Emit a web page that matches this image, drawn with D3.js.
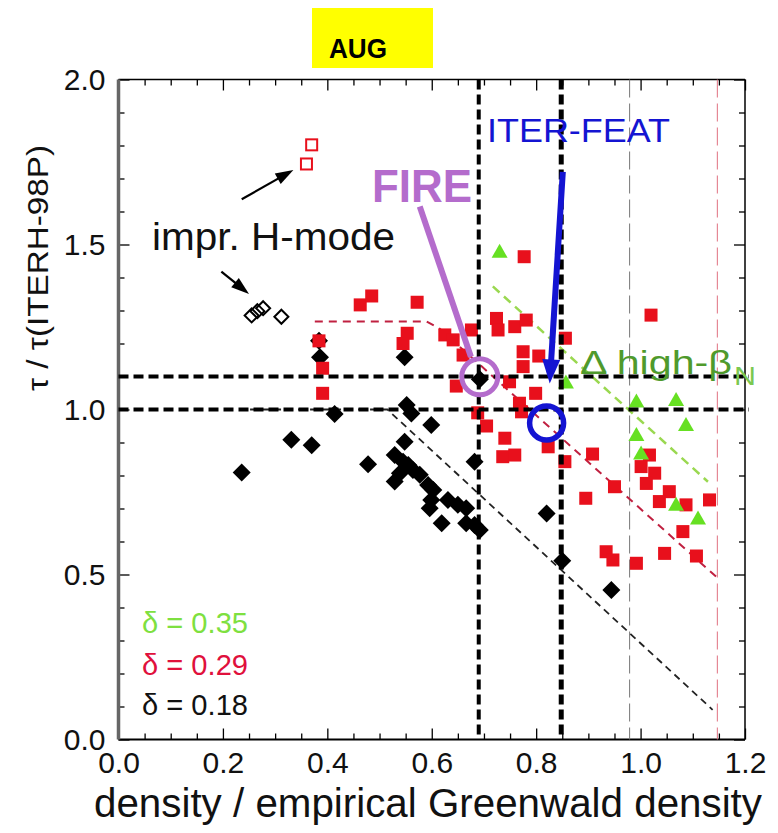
<!DOCTYPE html>
<html><head><meta charset="utf-8">
<script src="https://cdn.jsdelivr.net/npm/d3@7"></script>
<style>body{margin:0;background:#fff}svg{display:block}text{font-family:"Liberation Sans",Arial,Helvetica,sans-serif}</style>
</head><body>
<svg id="c" width="778" height="833"></svg>
<script>
// ---------- data ----------
const xTicksMajor = [0, 0.2, 0.4, 0.6, 0.8, 1.0, 1.2];
const yTicksMajor = [0, 0.5, 1.0, 1.5, 2.0];
const xTickLabels = ["0.0","0.2","0.4","0.6","0.8","1.0","1.2"];
const yTickLabels = ["0.0","0.5","1.0","1.5","2.0"];

// delta = 0.18 (black diamonds)
const delta018 = [[0.384,1.208],[0.386,1.158],[0.548,1.158],[0.414,0.986],[0.552,1.014],[0.561,0.988],[0.599,0.953],
 [0.331,0.908],[0.370,0.892],[0.548,0.902],[0.236,0.809],[0.478,0.834],[0.529,0.862],[0.529,0.782],[0.545,0.842],
 [0.555,0.832],[0.564,0.817],[0.539,0.807],[0.577,0.802],[0.593,0.771],[0.603,0.756],[0.599,0.726],[0.596,0.701],
 [0.631,0.726],[0.650,0.711],[0.666,0.701],[0.619,0.655],[0.666,0.655],[0.682,0.650],[0.692,0.635],[0.682,0.842],
 [0.820,0.685],[0.850,0.542],[0.944,0.453],[0.692,1.092]];
// delta = 0.29 (red squares)
const delta029 = [[0.463,1.317],[0.485,1.344],[0.572,1.325],[0.384,1.208],[0.391,1.125],[0.391,1.049],[0.553,1.231],
 [0.545,1.200],[0.625,1.226],[0.641,1.211],[0.676,1.241],[0.660,1.165],[0.647,1.071],[0.688,0.990],[0.777,1.463],
 [0.724,1.276],[0.727,1.241],[0.759,1.251],[0.781,1.271],[0.856,1.216],[0.775,1.175],[0.805,1.162],[0.749,1.084],
 [0.799,1.049],[0.768,1.019],[0.772,0.993],[0.705,0.950],[1.020,1.286],[0.740,0.913],[0.736,0.857],[0.759,0.862],
 [0.775,1.130],[0.823,0.887],[0.855,0.842],[0.908,0.865],[0.950,0.766],[0.895,0.731],[1.017,0.862],[1.001,0.827],
 [1.027,0.807],[1.011,0.776],[1.055,0.751],[1.036,0.721],[1.087,0.711],[1.132,0.726],[1.081,0.630],[0.934,0.569],
 [0.947,0.544],[0.992,0.534],[1.046,0.564],[1.107,0.556]];
// delta = 0.35 (green triangles, high-betaN)
const delta035 = [[0.730,1.478],[0.857,1.082],[0.992,1.024],[1.068,1.029],[1.087,0.953],[0.992,0.923],[1.001,0.867],
 [1.068,0.711],[1.110,0.670]];
// improved H-mode
const imprRed = [[0.370,1.802],[0.360,1.744]];
const imprBlack = [[0.255,1.285],[0.266,1.298],[0.277,1.307],[0.312,1.281]];

// fit / limit lines
const lineBlack = [[0.252,1.0],[0.515,1.0],[1.138,0.09]];
const lineRed = [[0.376,1.267],[0.590,1.267],[0.615,1.245],[1.145,0.493]];
const lineGreen = [[0.717,1.373],[1.129,0.781]];
const targetTau = [1.0, 1.1];
const targetDensity = [0.69, 0.848];
const limitGray = 0.979, limitRed = 1.147;
const fire = {x:0.692, y:1.099, from:[0.577,1.615], to:[0.675,1.16]};
const iter = {x:0.820, y:0.959, from:[0.851,1.72], to:[0.826,1.079]};
const impArrows = [[[0.236,1.637],[0.335,1.726]],[[0.197,1.418],[0.250,1.350]]];

// ---------- drawing ----------
const svg = d3.select("#c");
const x = d3.scaleLinear().domain([0,1.2]).range([118.5,745]);
const y = d3.scaleLinear().domain([0,2]).range([739.5,79.5]);
const RED="#e8101c", GREEN="#66e022";

// AUG label
svg.append("rect").attr("x",312).attr("y",8).attr("width",121).attr("height",60).attr("fill","#ffff00");
svg.append("text").attr("x",329).attr("y",58).attr("font-size",27).attr("font-weight","bold")
  .attr("textLength",58).attr("lengthAdjust","spacingAndGlyphs").text("AUG");

// axes
const minorX = d3.range(0,1.2001,0.05).filter(v=>Math.abs(v/0.2-Math.round(v/0.2))>1e-6);
const minorY = d3.range(0,2.0001,0.1).filter(v=>Math.abs(v/0.5-Math.round(v/0.5))>1e-6);
function addAxis(gen, tr){ const g = svg.append("g").attr("transform",tr).call(gen); g.select(".domain").remove();
  g.selectAll("line").attr("stroke","#000").attr("stroke-width",1.3); return g; }
const bx = addAxis(d3.axisBottom(x).tickValues(xTicksMajor).tickSize(-11).tickPadding(12).tickFormat((d,i)=>xTickLabels[i]),"translate(0,739.5)");
bx.selectAll("text").attr("font-size",30).attr("fill","#111").attr("dy","0.71em");
addAxis(d3.axisBottom(x).tickValues(minorX).tickSize(-6).tickFormat(""),"translate(0,739.5)");
addAxis(d3.axisTop(x).tickValues(xTicksMajor).tickSize(-11).tickFormat(""),"translate(0,79.5)");
addAxis(d3.axisTop(x).tickValues(minorX).tickSize(-6).tickFormat(""),"translate(0,79.5)");
const ly = addAxis(d3.axisLeft(y).tickValues(yTicksMajor).tickSize(-11).tickPadding(13).tickFormat((d,i)=>yTickLabels[i]),"translate(118.5,0)");
ly.selectAll("text").attr("font-size",30).attr("fill","#111");
addAxis(d3.axisLeft(y).tickValues(minorY).tickSize(-6).tickFormat(""),"translate(118.5,0)");
addAxis(d3.axisRight(y).tickValues(yTicksMajor).tickSize(-11).tickFormat(""),"translate(745,0)");
addAxis(d3.axisRight(y).tickValues(minorY).tickSize(-6).tickFormat(""),"translate(745,0)");
// frame
svg.append("line").attr("x1",x(0)).attr("x2",x(1.2)).attr("y1",y(2)).attr("y2",y(2)).attr("stroke","#000").attr("stroke-width",1.5);
svg.append("line").attr("x1",x(0)).attr("x2",x(1.2)).attr("y1",y(0)).attr("y2",y(0)).attr("stroke","#000").attr("stroke-width",1.8);
svg.append("line").attr("x1",x(1.2)).attr("x2",x(1.2)).attr("y1",y(0)).attr("y2",y(2)).attr("stroke","#000").attr("stroke-width",1.5);
svg.append("line").attr("x1",x(0)).attr("x2",x(0)).attr("y1",y(0)).attr("y2",y(2)).attr("stroke","#666").attr("stroke-width",3.5);

// axis titles
svg.append("text").attr("x",428).attr("y",817).attr("text-anchor","middle").attr("font-size",41).attr("fill","#111")
  .attr("textLength",668).attr("lengthAdjust","spacingAndGlyphs").text("density / empirical Greenwald density");
svg.append("text").attr("transform","translate(48,268) rotate(-90)").attr("text-anchor","middle").attr("font-size",29)
  .attr("fill","#111").attr("textLength",246).attr("lengthAdjust","spacingAndGlyphs").text("τ / τ(ITERH-98P)");

// thin limit lines
svg.append("line").attr("x1",x(limitGray)).attr("x2",x(limitGray)).attr("y1",y(2)).attr("y2",y(0))
  .attr("stroke","#777").attr("stroke-width",1).attr("stroke-dasharray","18,6");
svg.append("line").attr("x1",x(limitRed)).attr("x2",x(limitRed)).attr("y1",y(2)).attr("y2",y(0))
  .attr("stroke","#e07080").attr("stroke-width",1).attr("stroke-dasharray","18,6");
const ln = d3.line().x(d=>x(d[0])).y(d=>y(d[1]));
svg.append("path").attr("d",ln(lineBlack)).attr("fill","none").attr("stroke","#222").attr("stroke-width",1.8).attr("stroke-dasharray","7,5");
svg.append("path").attr("d",ln(lineRed)).attr("fill","none").attr("stroke","#c02040").attr("stroke-width",2).attr("stroke-dasharray","8,6");
svg.append("path").attr("d",ln(lineGreen)).attr("fill","none").attr("stroke","#9ad850").attr("stroke-width",2.5).attr("stroke-dasharray","9,6");

// markers
const diamond = s=>`M0,${-s}L${s},0L0,${s}L${-s},0Z`;
svg.append("g").selectAll("path").data(delta018).join("path")
  .attr("transform",d=>`translate(${x(d[0])},${y(d[1])})`).attr("d",diamond(9)).attr("fill","#000");
svg.append("g").selectAll("rect").data(delta029).join("rect")
  .attr("x",d=>x(d[0])-6.5).attr("y",d=>y(d[1])-6.5).attr("width",13).attr("height",13).attr("fill",RED);
svg.append("g").selectAll("path").data(delta035).join("path")
  .attr("transform",d=>`translate(${x(d[0])},${y(d[1])})`).attr("d","M0,-8L8,6L-8,6Z").attr("fill",GREEN);
svg.append("g").selectAll("rect").data(imprRed).join("rect")
  .attr("x",d=>x(d[0])-5.5).attr("y",d=>y(d[1])-5.5).attr("width",11).attr("height",11)
  .attr("fill","#fff").attr("stroke",RED).attr("stroke-width",2);
svg.append("g").selectAll("path").data(imprBlack).join("path")
  .attr("transform",d=>`translate(${x(d[0])},${y(d[1])})`).attr("d",diamond(7))
  .attr("fill","none").attr("stroke","#000").attr("stroke-width",2);

// thick target lines
targetTau.forEach(t=>svg.append("line").attr("x1",x(0)).attr("x2",x(1.2)+4).attr("y1",y(t)).attr("y2",y(t))
  .attr("stroke","#000").attr("stroke-width",4).attr("stroke-dasharray","10,5"));
targetDensity.forEach((t,i)=>svg.append("line").attr("x1",x(t)).attr("x2",x(t)).attr("y1",y(2)).attr("y2",y(0))
  .attr("stroke","#000").attr("stroke-width",i?5:4).attr("stroke-dasharray","10,5"));

// FIRE
const PURPLE="#b46ccc";
svg.append("line").attr("x1",x(fire.from[0])).attr("y1",y(fire.from[1])).attr("x2",x(fire.to[0])).attr("y2",y(fire.to[1]))
  .attr("stroke",PURPLE).attr("stroke-width",6);
svg.append("circle").attr("cx",x(fire.x)).attr("cy",y(fire.y)).attr("r",18).attr("fill","none").attr("stroke",PURPLE).attr("stroke-width",5);
svg.append("text").attr("x",372).attr("y",202).attr("font-size",46).attr("font-weight","bold").attr("fill",PURPLE)
  .attr("textLength",100).attr("lengthAdjust","spacingAndGlyphs").text("FIRE");

// ITER-FEAT
const BLUE="#1414d2";
const ix1=x(iter.from[0]), iy1=y(iter.from[1]), ix2=x(iter.to[0]), iy2=y(iter.to[1]);
const ang=Math.atan2(iy2-iy1, ix2-ix1);
svg.append("line").attr("x1",ix1).attr("y1",iy1).attr("x2",ix2-20*Math.cos(ang)).attr("y2",iy2-20*Math.sin(ang))
  .attr("stroke",BLUE).attr("stroke-width",6);
svg.append("path").attr("transform",`translate(${ix2},${iy2}) rotate(${ang*180/Math.PI})`).attr("d","M0,0L-24,-9L-24,9Z").attr("fill",BLUE);
svg.append("circle").attr("cx",x(iter.x)).attr("cy",y(iter.y)).attr("r",17).attr("fill","none").attr("stroke",BLUE).attr("stroke-width",5.5);
svg.append("text").attr("x",487).attr("y",142).attr("font-size",33).attr("fill",BLUE)
  .attr("textLength",183).attr("lengthAdjust","spacingAndGlyphs").text("ITER-FEAT");

// impr H-mode
svg.append("text").attr("x",152).attr("y",250).attr("font-size",39).attr("fill","#111")
  .attr("textLength",243).attr("lengthAdjust","spacingAndGlyphs").text("impr. H-mode");
impArrows.forEach(a=>{
  const x1=x(a[0][0]),y1=y(a[0][1]),x2=x(a[1][0]),y2=y(a[1][1]); const an=Math.atan2(y2-y1,x2-x1);
  svg.append("line").attr("x1",x1).attr("y1",y1).attr("x2",x2-12*Math.cos(an)).attr("y2",y2-12*Math.sin(an)).attr("stroke","#000").attr("stroke-width",2.2);
  svg.append("path").attr("transform",`translate(${x2},${y2}) rotate(${an*180/Math.PI})`).attr("d","M0,0L-18,-6L-18,6Z").attr("fill","#000");
});

// high-beta label
svg.append("text").attr("x",580).attr("y",374).attr("font-size",34).attr("fill","#4f9a2c")
  .attr("textLength",152).attr("lengthAdjust","spacingAndGlyphs").text("Δ high-β");
svg.append("text").attr("x",734).attr("y",385).attr("font-size",26).attr("fill","#7cc850")
  .attr("textLength",22).attr("lengthAdjust","spacingAndGlyphs").text("N");

// delta legend
const leg = [["δ = 0.35","#7ee040",633],["δ = 0.29","#e0103c",675],["δ = 0.18","#111",715]];
leg.forEach(l=>svg.append("text").attr("x",142).attr("y",l[2]).attr("font-size",30).attr("fill",l[1])
  .attr("textLength",106).attr("lengthAdjust","spacingAndGlyphs").text(l[0]));
</script>
</body></html>
